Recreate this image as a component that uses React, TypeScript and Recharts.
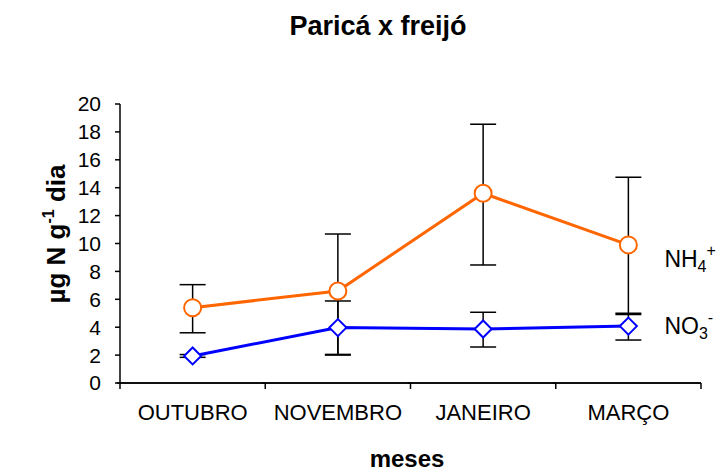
import React from "react";
import {
  LineChart,
  Line,
  XAxis,
  YAxis,
  ErrorBar,
  LabelList,
  Customized,
} from "recharts";

const months = ["OUTUBRO", "NOVEMBRO", "JANEIRO", "MARÇO"];
const nh4 = [5.4, 6.6, 13.6, 9.9];
const nh4Err = [
  [1.8, 1.65],
  [4.55, 4.08],
  [5.14, 4.95],
  [4.99, 4.85],
];
const no3 = [1.94, 3.97, 3.87, 4.08];
const no3Err = [
  [0.1, 0.1],
  [1.97, 1.91],
  [1.29, 1.2],
  [1.0, 0.92],
];
const yTicks = [0, 2, 4, 6, 8, 10, 12, 14, 16, 18, 20];

const data = months.map((m, i) => ({
  mes: m,
  nh4: nh4[i],
  nh4Err: nh4Err[i],
  no3: no3[i],
  no3Err: no3Err[i],
}));

const FONT = "'Liberation Sans', Arial, sans-serif";
const ORANGE = "#FF6600";
const BLUE = "#0000FF";

const CircleDot = (props: any) => {
  const { cx, cy, index } = props;
  return <circle key={"c" + index} cx={cx} cy={cy} r={8.5} fill="#fff" stroke={ORANGE} strokeWidth={2} />;
};

const DiamondDot = (props: any) => {
  const { cx, cy, index } = props;
  const s = 8.5;
  return (
    <polygon
      key={"d" + index}
      points={`${cx},${cy - s} ${cx + s},${cy} ${cx},${cy + s} ${cx - s},${cy}`}
      fill="#fff"
      stroke={BLUE}
      strokeWidth={2}
    />
  );
};

// category tick: label at band centre, axis segment and tick marks at band edges
const MonthTick = (props: any) => {
  const { x, y, payload, index, visibleTicksCount } = props;
  const count = visibleTicksCount || months.length;
  const bw = (props.width || 581) / count;
  const left = x - bw / 2;
  return (
    <g>
      <line x1={left - 3} x2={left + bw} y1={y} y2={y} stroke="#000" strokeWidth={1.5} />
      <line x1={left} x2={left} y1={y} y2={y + 6} stroke="#000" strokeWidth={1.5} />
      {index === count - 1 && (
        <line x1={left + bw} x2={left + bw} y1={y} y2={y + 6} stroke="#000" strokeWidth={1.5} />
      )}
      <text x={x} y={y + 37} textAnchor="middle" fontFamily={FONT} fontSize={22} fill="#000">
        {payload.value}
      </text>
    </g>
  );
};

const seriesLabel = (main: string, sub: string, sup: string, dy: number) => (props: any) => {
  const { x, y, index } = props;
  if (index !== months.length - 1) return null;
  return (
    <text x={x + 36} y={y + dy} fontFamily={FONT} fontSize={23} fill="#000">
      {main}
      <tspan fontSize={16} dy={5}>{sub}</tspan>
      <tspan fontSize={16} dy={-16}>{sup}</tspan>
    </text>
  );
};

const Titles = () => (
  <g fontFamily={FONT} fill="#000">
    <text x={378} y={35} textAnchor="middle" fontSize={27} fontWeight="bold">
      Paricá x freijó
    </text>
    <text x={407} y={467} textAnchor="middle" fontSize={24} fontWeight="bold">
      meses
    </text>
    <text
      x={65}
      y={234}
      textAnchor="middle"
      fontSize={26}
      fontWeight="bold"
      transform="rotate(-90 65 234)"
    >
      µg N g<tspan fontSize={16} dy={-11}>-1</tspan>
      <tspan dy={11}> dia</tspan>
    </text>
  </g>
);

export default function App() {
  return (
    <div style={{ width: 726, height: 472, background: "#fff" }}>
      <style>{"body{margin:0}"}</style>
      <LineChart
        width={726}
        height={472}
        data={data}
        margin={{ top: 104, right: 25, left: 60, bottom: 29 }}
      >
        <XAxis
          dataKey="mes"
          scale="band"
          height={60}
          axisLine={{ stroke: "#000", strokeWidth: 1.5 }}
          tickLine={false}
          tickSize={0}
          tickMargin={0}
          interval={0}
          tick={MonthTick}
        />
        <YAxis
          domain={[0, 20]}
          ticks={yTicks}
          width={60}
          interval={0}
          stroke="#000"
          strokeWidth={1.5}
          tickSize={5}
          tickMargin={14}
          tick={{ fontSize: 21, fontFamily: FONT, fill: "#000" }}
        />
        <Line
          dataKey="no3"
          stroke={BLUE}
          strokeWidth={3}
          dot={DiamondDot}
          isAnimationActive={false}
        >
          <ErrorBar dataKey="no3Err" width={13} stroke="#000" strokeWidth={1.5} direction="y" />
          <LabelList dataKey="no3" content={seriesLabel("NO", "3", "-", 8)} />
        </Line>
        <Line
          dataKey="nh4"
          stroke={ORANGE}
          strokeWidth={3}
          dot={CircleDot}
          isAnimationActive={false}
        >
          <ErrorBar dataKey="nh4Err" width={13} stroke="#000" strokeWidth={1.5} direction="y" />
          <LabelList dataKey="nh4" content={seriesLabel("NH", "4", "+", 22)} />
        </Line>
        <Customized component={Titles} />
      </LineChart>
    </div>
  );
}
